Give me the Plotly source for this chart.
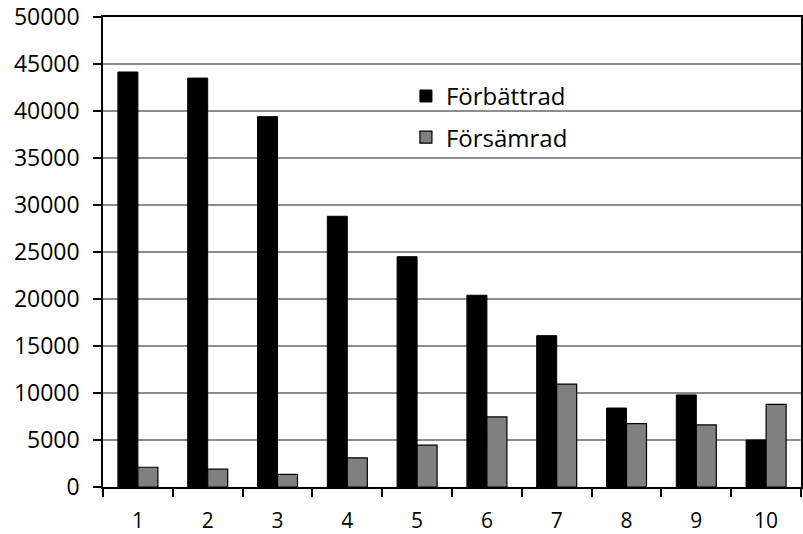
import plotly.graph_objects as go

categories = ["1", "2", "3", "4", "5", "6", "7", "8", "9", "10"]
forbattrad = [44150, 43500, 39400, 28800, 24500, 20400, 16100, 8400, 9800, 5000]
forsamrad = [2100, 1900, 1350, 3100, 4450, 7450, 10950, 6750, 6600, 8800]
y_ticks = [0, 5000, 10000, 15000, 20000, 25000, 30000, 35000, 40000, 45000, 50000]

FONT = "Open Sans"

fig = go.Figure()
fig.add_trace(go.Bar(
    x=categories, y=forbattrad, name="Förbättrad",
    marker=dict(color="#000000", line=dict(color="#000000", width=1)),
    legendgroup="a",
))
fig.add_trace(go.Bar(
    x=categories, y=forsamrad, name="Försämrad",
    marker=dict(color="#808080", line=dict(color="#000000", width=1.2)),
    legendgroup="b",
))

fig.update_layout(
    width=803, height=534,
    margin=dict(l=103, r=2, t=17, b=47, autoexpand=False),
    paper_bgcolor="white", plot_bgcolor="white",
    barmode="group", bargap=0.427, bargroupgap=0,
    font=dict(family=FONT, color="black"),
    legend=dict(
        x=0.434, y=0.879, xanchor="left", yanchor="top",
        font=dict(family=FONT, size=24, color="black"),
        bgcolor="rgba(0,0,0,0)", itemwidth=30,
        traceorder="grouped", tracegroupgap=7,
    ),
    showlegend=True,
)
fig.update_xaxes(
    type="category", automargin=False,
    showline=True, linecolor="black", linewidth=1.5, mirror=True,
    ticks="outside", tickson="boundaries", ticklen=8, tickcolor="black", tickwidth=1.5,
    tickfont=dict(family=FONT, size=21, color="black"),
    ticklabelstandoff=14, ticklabeloverflow="allow",
    showgrid=False,
)
fig.update_yaxes(
    range=[0, 50000], tickvals=y_ticks, tickformat="d", automargin=False,
    showline=True, linecolor="black", linewidth=1.5, mirror=True,
    ticks="outside", ticklen=8, tickcolor="black", tickwidth=1.5,
    tickfont=dict(family=FONT, size=23, color="black"),
    ticklabelstandoff=9, ticklabeloverflow="allow",
    showgrid=True, gridcolor="#8c8c8c", gridwidth=1.5,
    zeroline=False,
)

# remove the default page margin so the 803x534 figure fills the window exactly
fig.write_html(
    "out.html",
    config={"displayModeBar": False},
    post_script="document.body.style.margin='0';document.body.style.overflow='hidden';",
)
